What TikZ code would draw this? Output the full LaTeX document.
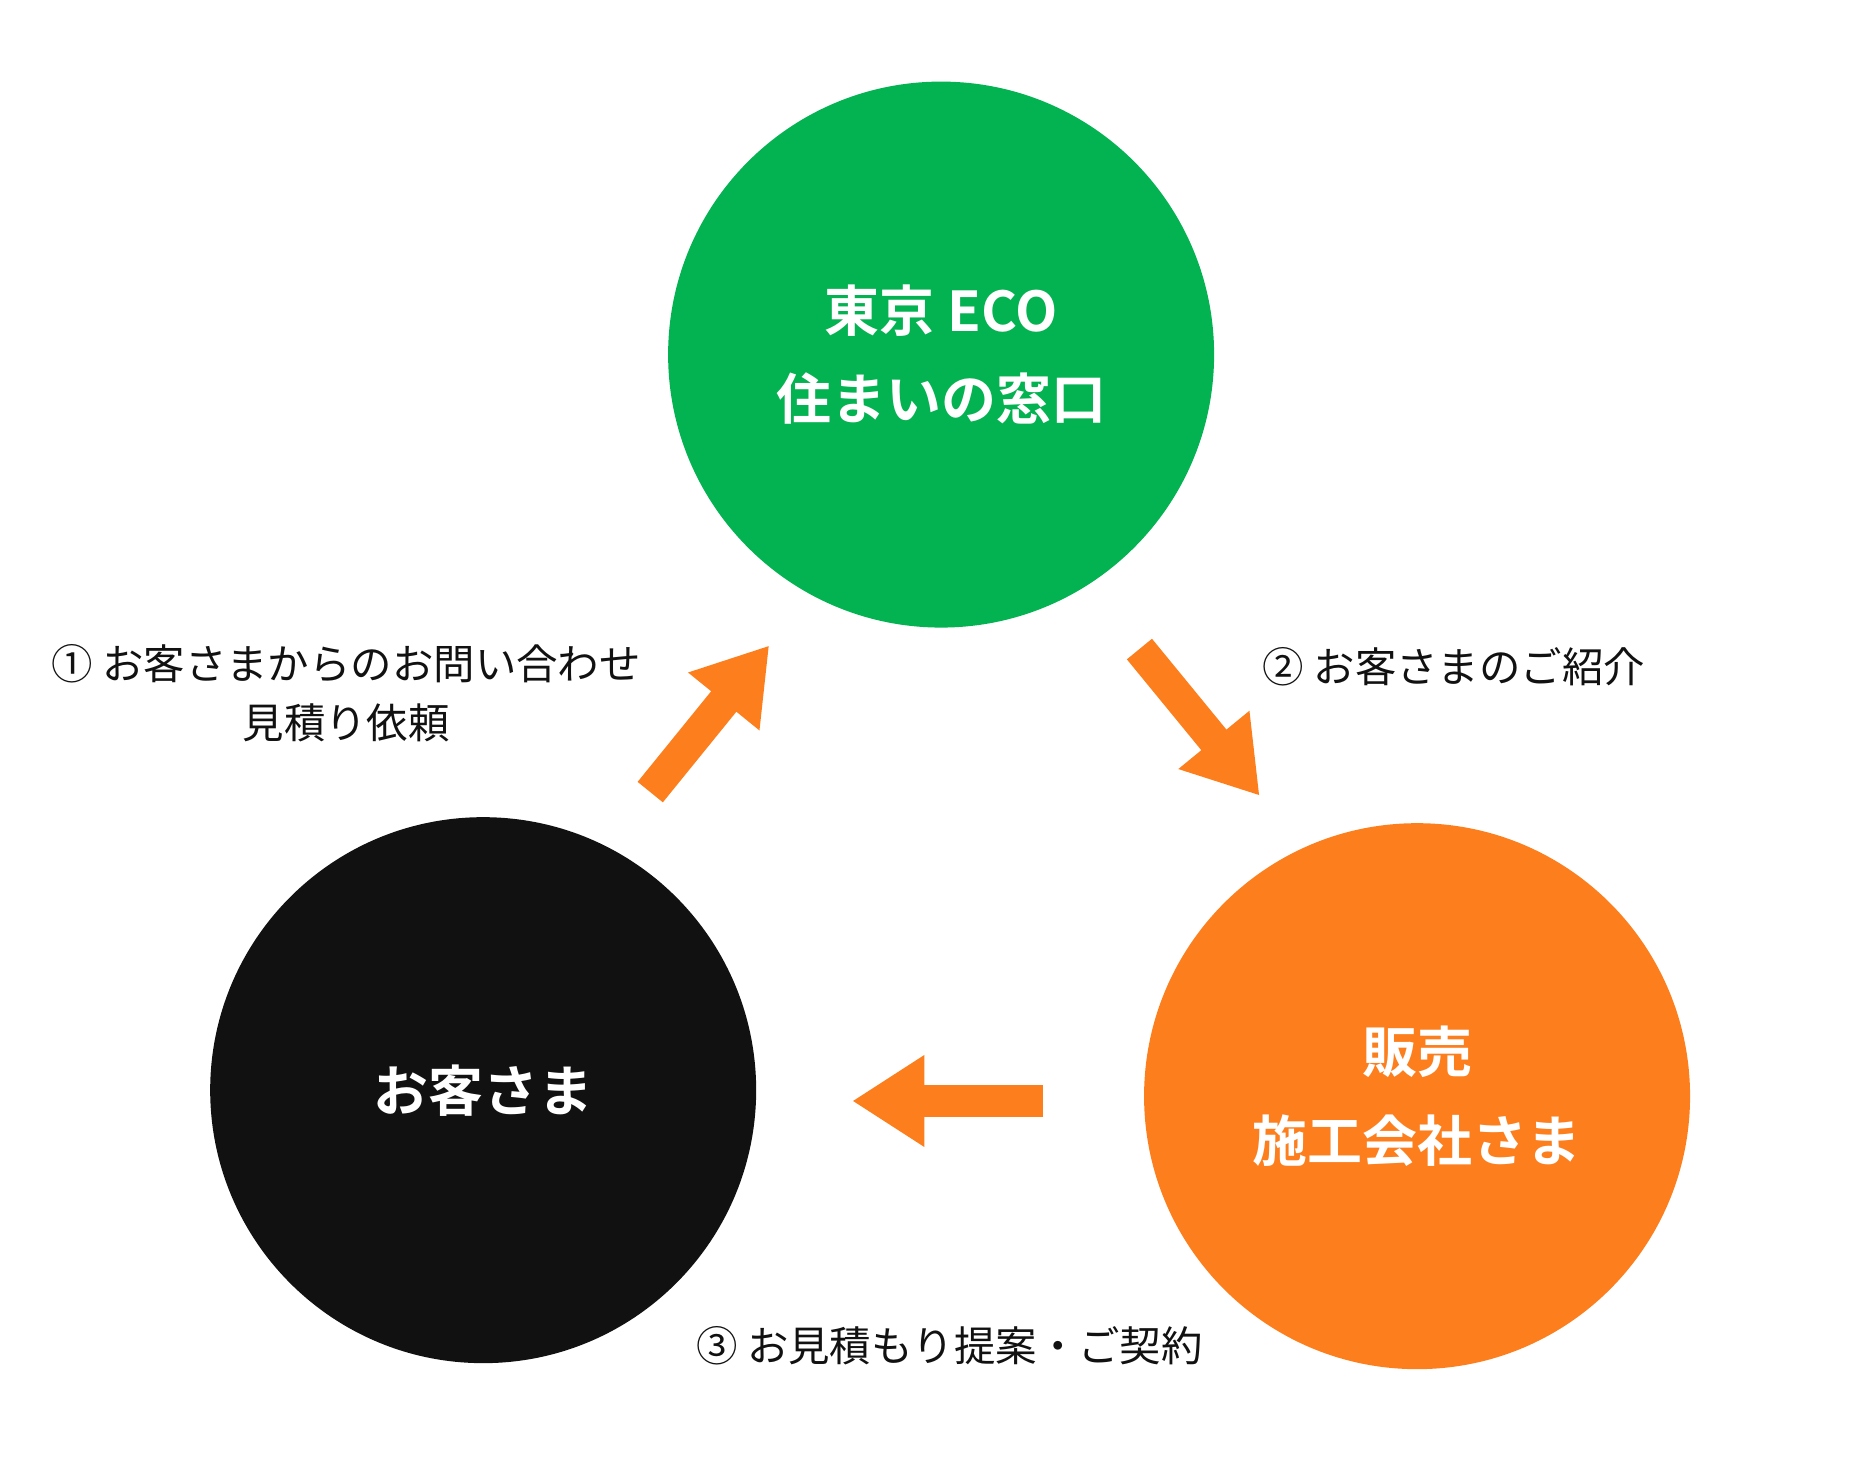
\documentclass[tikz,border=0pt]{standalone}
\usepackage{fontspec}
\newfontfamily\cjk{Noto Sans CJK JP}
\newfontfamily\cjkb{Noto Sans CJK JP Bold}
\usetikzlibrary{arrows.meta}
\definecolor{eg}{HTML}{03B250}
\definecolor{eo}{HTML}{FD7E1C}
\definecolor{ek}{HTML}{111111}
\begin{document}
\begin{tikzpicture}[x=0.01cm,y=-0.01cm,
  circ/.style={circle,minimum size=4.54cm,inner sep=0pt,text=white,align=center,font=\cjkb\fontsize{13}{21}\selectfont},
  lbl/.style={font=\cjk\fontsize{9.8}{14}\selectfont,text=ek,align=center,inner sep=0pt},
  arr/.style={draw=eo,line width=0.27cm,-{Triangle[length=0.6cm,width=0.72cm]}}]
\useasboundingbox (0,0) rectangle (1560,1214);
\node[circ,fill=eg] (tokyo) at (783,295) {東京 ECO\\住まいの窓口};
\node[circ,fill=ek] (cust) at (402,907) {お客さま};
\node[circ,fill=eo] (shop) at (1179,912) {販売\\施工会社さま};
\coordinate (a1s) at (541,659); \coordinate (a1e) at (640,537);
\coordinate (a2s) at (948,540); \coordinate (a2e) at (1048,662);
\coordinate (a3s) at (868,916); \coordinate (a3e) at (709,916);
\draw[arr] (a1s) -- (a1e);
\draw[arr] (a2s) -- (a2e);
\draw[arr] (a3s) -- (a3e);
\node[lbl] (l1) at (288,577) {① お客さまからのお問い合わせ\\見積り依頼};
\node[lbl,anchor=west] (l2) at (1050,555) {② お客さまのご紹介};
\node[lbl] (l3) at (790,1120) {③ お見積もり提案・ご契約};
\end{tikzpicture}
\end{document}
